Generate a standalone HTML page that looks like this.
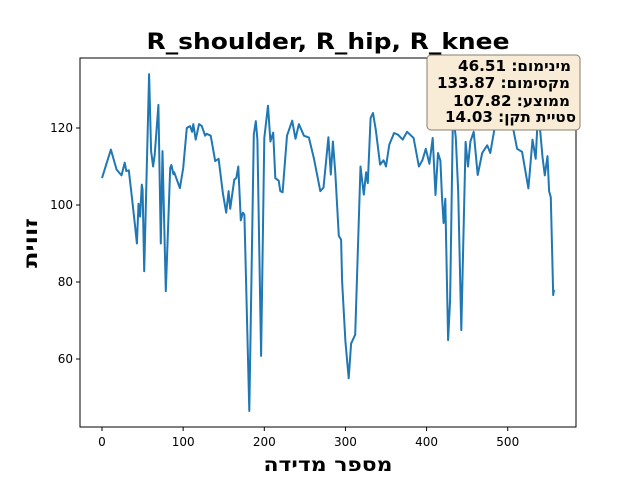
<!DOCTYPE html>
<html><head><meta charset="utf-8">
<style>
body{margin:0;background:#fff;}
svg{display:block;font-family:"DejaVu Sans","Liberation Sans",sans-serif;}
</style></head>
<body>
<svg id="chart" width="640" height="480">
<rect x="0" y="0" width="640" height="480" fill="#fff"/>
<text x="328" y="49" text-anchor="middle" font-size="22" font-weight="bold" textLength="363" lengthAdjust="spacingAndGlyphs">R_shoulder, R_hip, R_knee</text>
<g id="plot"></g>
<rect x="80" y="58" width="496" height="369" fill="none" stroke="#000" stroke-width="1"/>
<text x="328" y="471" text-anchor="middle" font-size="19" font-weight="bold" direction="rtl" textLength="129" lengthAdjust="spacingAndGlyphs">מספר מדידה</text>
<text transform="translate(37,243) rotate(-90)" text-anchor="middle" font-size="19" font-weight="bold" direction="rtl" textLength="50" lengthAdjust="spacingAndGlyphs">זווית</text>
<g>
<rect x="427" y="55" width="153" height="75" rx="4" fill="#f8ecd6" stroke="#8a7f6e" stroke-width="1"/>
<text x="571" y="71" text-anchor="end" font-size="15" font-weight="bold" textLength="113" lengthAdjust="spacingAndGlyphs">46.51 :מינימום</text>
<text x="570" y="88" text-anchor="end" font-size="15" font-weight="bold" textLength="133" lengthAdjust="spacingAndGlyphs">133.87 :מקסימום</text>
<text x="570" y="106" text-anchor="end" font-size="15" font-weight="bold" textLength="117" lengthAdjust="spacingAndGlyphs">107.82 :ממוצע</text>
<text x="576" y="122" text-anchor="end" font-size="15" font-weight="bold" textLength="131" lengthAdjust="spacingAndGlyphs">14.03 :סטיית תקן</text>
</g>
</svg>
<script>
const xIdx=[0,11,18,24,28,30,33,37,41,43,45,47,49,50,52,58,60.5,63,65,69.5,72.5,74.5,78.6,84,85.5,88,89,96,100,104.5,108.5,111,112.5,115.5,119.5,123,127,129,134,139.5,143.7,149,153,156,158,160,163,165.5,168,171,173.5,175.5,181.5,187,189.5,191.5,196,200,204.5,207.5,211,213.6,217.7,219.7,222.5,228,234.4,238.5,242.6,248.8,255,261.3,269,273,279,282,284.5,287.5,291.8,294.6,295.9,300,304,307,312,318.5,322.6,325.5,327.6,331,334,337.4,342.7,347,350,354,360,364.5,370.5,376,384,390.5,395,399,403.5,407.5,411,414,417,419,421,423,426.5,429,432.5,436,439,442.8,448,451,454,458,463,468.5,474.7,478.5,487,493,499,505.6,511.5,517.7,525.5,530.5,534.5,537.5,542.8,545.7,549,551,553,556,557];
const angleValues=[107,114.4,109.2,107.7,111,108.8,109,101.8,94,90,100.3,97,105.3,104,82.8,134,114,110,113,126,90,114,77.6,109.6,110.4,108,108.5,104.4,109.6,120,120.5,119,121,117,121,120.5,118,118.5,118,111.4,112,103,98,103.6,99,102,106.6,107,110,96,98,97.5,46.5,118.3,121.8,117,60.8,117.4,125.8,116.5,118.8,107,106.3,103.6,103.3,118,121.9,117.2,121,118,117.5,112,103.6,104.5,117.6,107.9,116.5,108.4,92,91,80.2,64.6,55,64,66.3,110,102.7,108.5,105.7,122.6,123.9,119.5,110.5,111.6,110,115.7,118.7,118.3,117,119,117.4,110,111.7,114.6,110.7,117.4,102.6,113.5,111.5,102,95.3,101.6,64.9,75.3,124.2,117.4,103.5,67.5,116.4,110,116.5,119,107.8,113.5,115.5,113.5,123.9,120.8,120.2,121,114.6,113.8,104.3,117,112,125.1,112.5,107.7,112.7,103.6,102,76.6,78];
const xTicks=[0,100,200,300,400,500];
const yTicks=[60,80,100,120];
const NS='http://www.w3.org/2000/svg';
const plot=document.getElementById('plot');
function xs(v){return 102+v*0.8115;}
function ys(v){return 205-(v-100)*3.85;}
xTicks.forEach(t=>{
 const l=document.createElementNS(NS,'line');
 l.setAttribute('x1',xs(t));l.setAttribute('x2',xs(t));l.setAttribute('y1',427);l.setAttribute('y2',431);l.setAttribute('stroke','#000');
 
 
 plot.appendChild(l);
 const tx=document.createElementNS(NS,'text');
 tx.setAttribute('x',xs(t));tx.setAttribute('y',446);tx.setAttribute('text-anchor','middle');tx.setAttribute('font-size','12');
 tx.textContent=t;
 
 
 plot.appendChild(tx);
});
yTicks.forEach(t=>{
 const l=document.createElementNS(NS,'line');
 l.setAttribute('x1',76);l.setAttribute('x2',80);l.setAttribute('y1',ys(t));l.setAttribute('y2',ys(t));l.setAttribute('stroke','#000');
 
 
 plot.appendChild(l);
 const tx=document.createElementNS(NS,'text');
 tx.setAttribute('x',73);tx.setAttribute('y',ys(t)+4);tx.setAttribute('text-anchor','end');tx.setAttribute('font-size','12');
 tx.textContent=t;
 
 
 plot.appendChild(tx);
});
const p=document.createElementNS(NS,'polyline');
p.setAttribute('points',xIdx.map((x,i)=>xs(x).toFixed(1)+','+ys(angleValues[i]).toFixed(1)).join(' '));
p.setAttribute('fill','none');p.setAttribute('stroke','#1f77b4');p.setAttribute('stroke-width','2');p.setAttribute('stroke-linejoin','round');


plot.appendChild(p);
</script>
</body></html>
